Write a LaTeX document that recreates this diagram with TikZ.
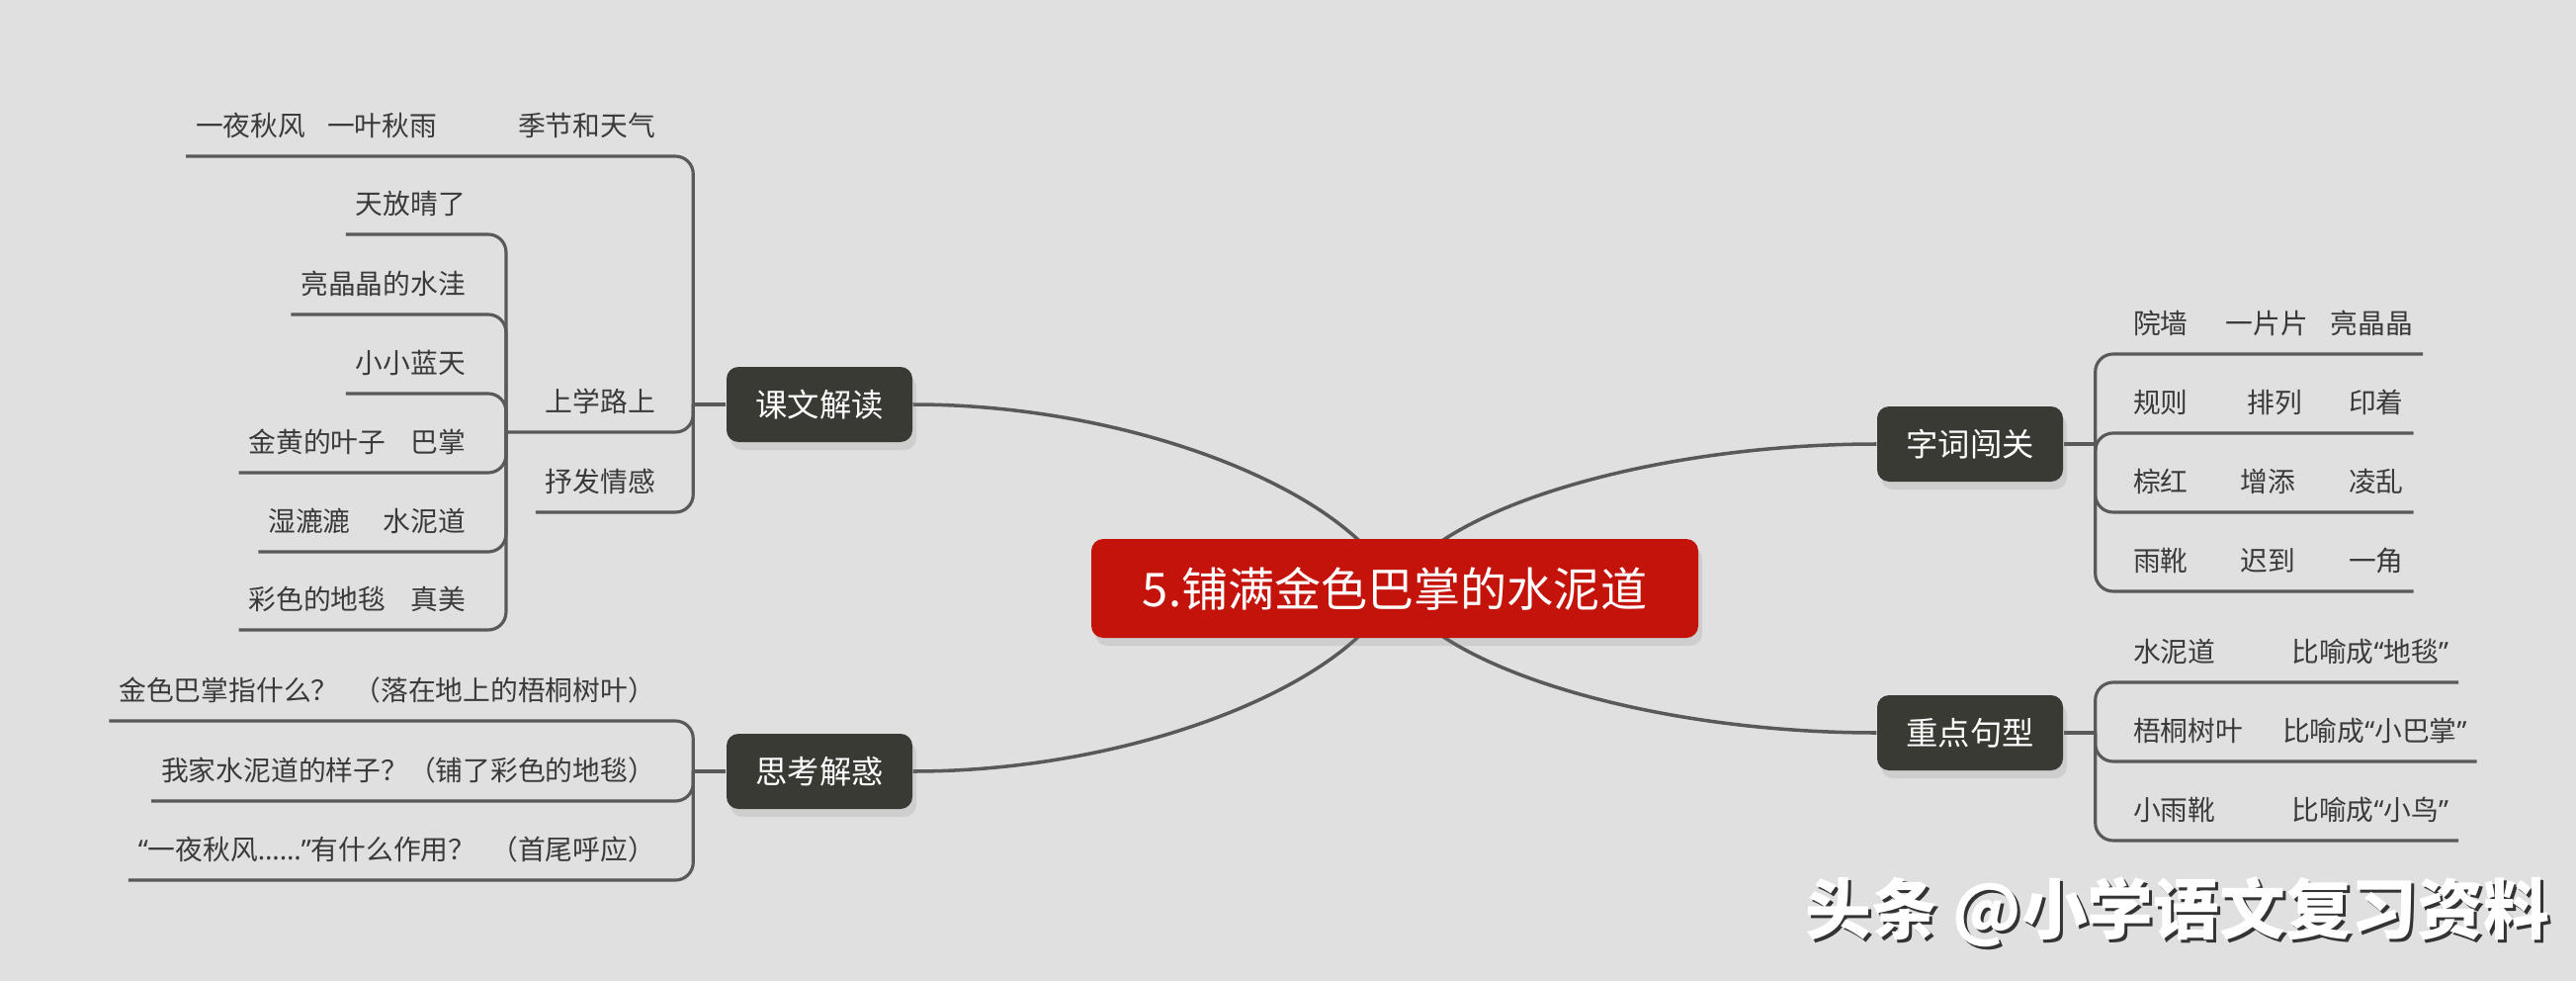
\documentclass[tikz,border=0pt]{standalone}
\usepackage{fontspec}
\newfontfamily\cjk{Noto Sans CJK SC}
\newfontfamily\lat{Noto Sans}
\usepackage{tikz}
\usetikzlibrary{positioning,shadows}

\definecolor{bgc}{HTML}{E0E0E0}
\definecolor{linec}{HTML}{595959}
\definecolor{rootc}{HTML}{C4130B}
\definecolor{boxc}{HTML}{3A3A35}
\definecolor{leafc}{HTML}{3A3A3A}

\newcommand{\oq}{{\lat“}}
\newcommand{\cq}{{\lat”}}

\pgfdeclarelayer{paper}
\pgfdeclarelayer{edges}
\pgfsetlayers{paper,edges,main}

\begin{document}
\begin{tikzpicture}[x=0.1mm,y=-0.1mm,
	link/.style={draw=linec,line width=0.9pt,rounded corners=1.8mm},
	curve/.style={draw=linec,line width=1pt},
	boxshadow/.style={drop shadow={opacity=0.18,shadow xshift=0.4mm,shadow yshift=-0.8mm}}]
	\tikzstyle{root}=[fill=rootc,text=white,rounded corners=1.2mm,boxshadow,
		minimum width=61.4mm,minimum height=10mm,font=\cjk\fontsize{13.4}{16}\selectfont]
	\tikzstyle{branch}=[fill=boxc,text=white,rounded corners=1.2mm,boxshadow,
		minimum width=18.8mm,minimum height=7.6mm,font=\cjk\fontsize{9.2}{11}\selectfont]
	\tikzstyle{leaf}=[text=leafc,inner sep=0pt,outer sep=0pt,minimum height=6.2mm,
		font=\cjk\fontsize{7.9}{9.5}\selectfont]
	\tikzstyle{leafL}=[leaf,anchor=south east]
	\tikzstyle{leafR}=[leaf,anchor=south west]
	\tikzstyle{wm}=[inner sep=0pt,font=\cjk\bfseries\fontsize{19}{22}\selectfont]

	\useasboundingbox (0,0) rectangle (2606,992);
	\begin{pgfonlayer}{paper}
		\fill[bgc] (0,0) rectangle (2606,992);
	\end{pgfonlayer}

	\node[root]   (root) at (1411,595) {5.铺满金色巴掌的水泥道};

	\node[branch] (kwjd) at (829,409) {课文解读};
	\node[branch] (sxjh) at (829,780) {思考解惑};
	\node[branch] (zcbg) at (1993,449) {字词闯关};
	\node[branch] (zdjx) at (1993,741) {重点句型};

	\coordinate[left=3.3mm of kwjd]  (jkw);
	\coordinate[left=3.3mm of sxjh]  (jsk);
	\coordinate[right=3.2mm of zcbg] (jzc);
	\coordinate[right=3.2mm of zdjx] (jzd);

	% 课文解读
	\node[leafL] (kw1) at (663,158) {一夜秋风\hspace{2.2mm}一叶秋雨\hspace{8.2mm}季节和天气};
	\node[leafL] (kw2) at (663,437) {上学路上};
	\node[leafL] (kw3) at (663,518) {抒发情感};
	\coordinate[left=4mm of kw2.south west] (jsx);

	\node[leafL] (sx1) at (471,237) {天放晴了};
	\node[leafL] (sx2) at (471,318) {亮晶晶的水洼};
	\node[leafL] (sx3) at (471,398) {小小蓝天};
	\node[leafL] (sx4) at (471,478) {金黄的叶子\hspace{2.5mm}巴掌};
	\node[leafL] (sx5) at (471,558) {湿漉漉\hspace{3.3mm}水泥道};
	\node[leafL] (sx6) at (471,637) {彩色的地毯\hspace{2.5mm}真美};

	% 思考解惑
	\node[leafL] (sk1) at (663,729) {金色巴掌指什么？\hspace{1.5mm}（落在地上的梧桐树叶）};
	\node[leafL] (sk2) at (663,810) {我家水泥道的样子？（铺了彩色的地毯）};
	\node[leafL] (sk3) at (663,890) {\oq 一夜秋风{\lat……}\cq 有什么作用？\hspace{1.5mm}（首尾呼应）};

	% 字词闯关
	\node[leafR] (zc1) at (2158,358) {院墙\hspace{3.8mm}一片片\hspace{2.3mm}亮晶晶};
	\node[leafR] (zc2) at (2158,438) {规则\hspace{6mm}排列\hspace{4.7mm}印着};
	\node[leafR] (zc3) at (2158,518) {棕红\hspace{5.3mm}增添\hspace{5.4mm}凌乱};
	\node[leafR] (zc4) at (2158,598) {雨靴\hspace{5.3mm}迟到\hspace{5.4mm}一角};

	% 重点句型
	\node[leafR] (zd1) at (2158,690) {水泥道\hspace{7.7mm}比喻成\oq 地毯\cq};
	\node[leafR] (zd2) at (2158,770) {梧桐树叶\hspace{4mm}比喻成\oq 小巴掌\cq};
	\node[leafR] (zd3) at (2158,850) {小雨靴\hspace{7.7mm}比喻成\oq 小鸟\cq};

	\begin{pgfonlayer}{edges}
		\draw[curve] (root.center) .. controls +(-41,-95) and +(228,0) .. (kwjd.east);
		\draw[curve] (root.center) .. controls +(-41,95) and +(228,0) .. (sxjh.east);
		\draw[curve] (root.center) .. controls +(41,-80) and +(-228,0) .. (zcbg.west);
		\draw[curve] (root.center) .. controls +(41,80) and +(-228,0) .. (zdjx.west);

		\draw[link] (kwjd) -- (jkw);
		\draw[link] (sxjh) -- (jsk);
		\draw[link] (zcbg) -- (jzc);
		\draw[link] (zdjx) -- (jzd);
	\end{pgfonlayer}

	\draw[link] (jkw) |- ([xshift=-1mm]kw1.south west);
	\draw[link] (jkw) |- (jsx);
	\draw[link] (jkw) |- ([xshift=-1mm]kw3.south west);
	\foreach \n in {sx1,sx2,sx3,sx4,sx5,sx6}
		\draw[link] (jsx) |- ([xshift=-1mm]\n.south west);
	\foreach \n in {sk1,sk2,sk3}
		\draw[link] (jsk) |- ([xshift=-1mm]\n.south west);
	\foreach \n in {zc1,zc2,zc3,zc4}
		\draw[link] (jzc) |- ([xshift=1mm]\n.south east);
	\foreach \n in {zd1,zd2,zd3}
		\draw[link] (jzd) |- ([xshift=1mm]\n.south east);

	% watermark
	\node[wm,text=black!80] (wmshade) at (2206,925) {头条 @小学语文复习资料};
	\node[wm,text=white]    (wmark)   at (2203,922) {头条 @小学语文复习资料};
\end{tikzpicture}
\end{document}
